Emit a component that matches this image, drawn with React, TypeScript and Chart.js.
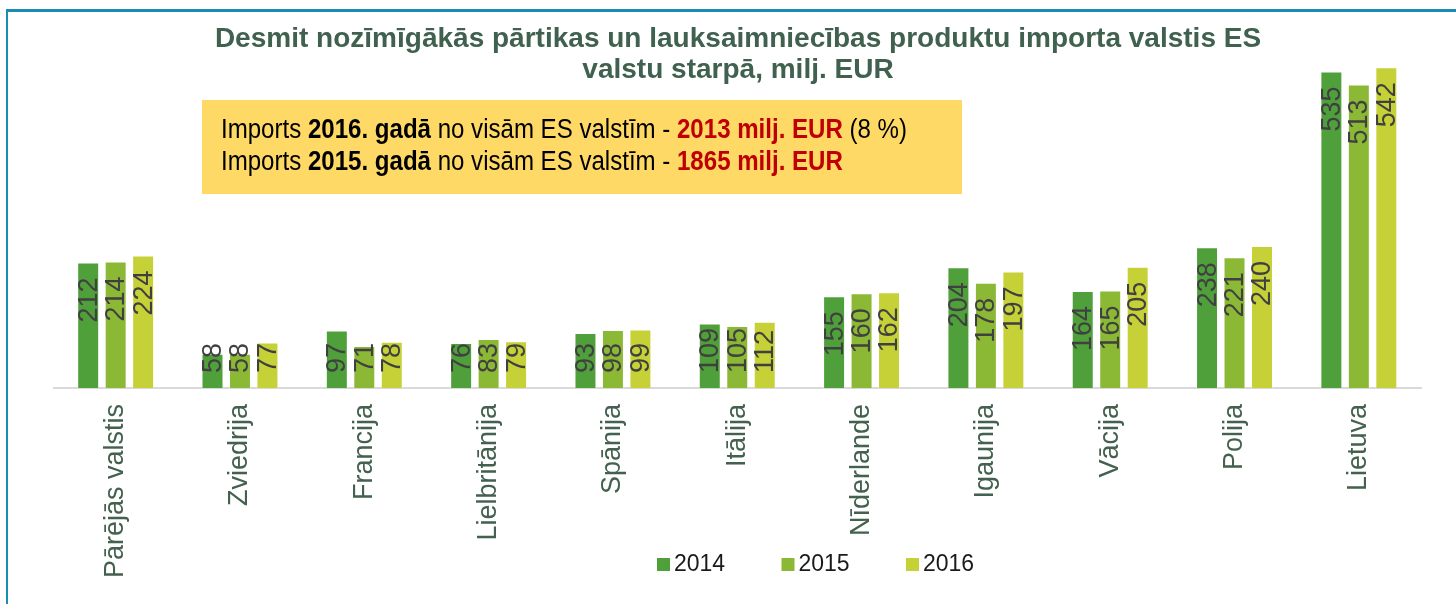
import React, { useEffect, useRef } from "react";
import { Chart, registerables } from "chart.js";

Chart.register(...registerables);

const categories = [
  "Pārējās valstis",
  "Zviedrija",
  "Francija",
  "Lielbritānija",
  "Spānija",
  "Itālija",
  "Nīderlande",
  "Igaunija",
  "Vācija",
  "Polija",
  "Lietuva",
];
const years = ["2014", "2015", "2016"];
const values2014 = [212, 58, 97, 76, 93, 109, 155, 204, 164, 238, 535];
const values2015 = [214, 58, 71, 83, 98, 105, 160, 178, 165, 221, 513];
const values2016 = [224, 77, 78, 79, 99, 112, 162, 197, 205, 240, 542];
const colors = ["#4f9f3b", "#8cb935", "#c5d137"];

const titleLines = [
  "Desmit nozīmīgākās pārtikas un lauksaimniecības produktu importa valstis ES",
  "valstu starpā, milj. EUR",
];
const noteLines: { text: string; bold: boolean; red: boolean }[][] = [
  [
    { text: "Imports ", bold: false, red: false },
    { text: "2016. gadā", bold: true, red: false },
    { text: " no visām ES valstīm - ", bold: false, red: false },
    { text: "2013 milj. EUR", bold: true, red: true },
    { text: " (8 %)", bold: false, red: false },
  ],
  [
    { text: "Imports ", bold: false, red: false },
    { text: "2015. gadā", bold: true, red: false },
    { text: " no visām ES valstīm - ", bold: false, red: false },
    { text: "1865 milj. EUR", bold: true, red: true },
  ],
];

const FONT = '"Liberation Sans", Arial, sans-serif';
const NARROW = '"Liberation Sans Narrow", "Liberation Sans", Arial, sans-serif';

const overlayPlugin = {
  id: "overlay",
  afterDatasetsDraw(chart: any) {
    const ctx: CanvasRenderingContext2D = chart.ctx;
    // data labels
    ctx.save();
    ctx.fillStyle = "#404040";
    ctx.font = `27px ${FONT}`;
    ctx.textAlign = "right";
    ctx.textBaseline = "middle";
    chart.data.datasets.forEach((ds: any, i: number) => {
      const meta = chart.getDatasetMeta(i);
      meta.data.forEach((bar: any, j: number) => {
        const p = bar.getProps(["x", "y", "base"], true);
        const label = String(ds.data[j]);
        const w = ctx.measureText(label).width;
        const top = Math.min(p.y + 15, p.base - 15 - w);
        ctx.save();
        ctx.translate(p.x + 1, top);
        ctx.rotate(-Math.PI / 2);
        ctx.fillText(label, 0, 0);
        ctx.restore();
      });
    });
    ctx.restore();
  },
  afterDraw(chart: any) {
    const ctx: CanvasRenderingContext2D = chart.ctx;
    ctx.save();
    // title
    ctx.fillStyle = "#41614f";
    ctx.textAlign = "center";
    ctx.textBaseline = "alphabetic";
    ctx.font = `bold 25px ${FONT}`;
    const w0 = ctx.measureText(titleLines[0]).width;
    const size = (25 * 1047) / w0;
    ctx.font = `bold ${size}px ${FONT}`;
    ctx.fillText(titleLines[0], 738, 47);
    ctx.fillText(titleLines[1], 738, 78);

    // note box
    ctx.fillStyle = "#ffd966";
    ctx.fillRect(202, 100, 760, 94);
    ctx.textAlign = "left";
    const fsz = 27;
    const measureLine = (line: any[]) =>
      line.reduce((acc, seg) => {
        ctx.font = `${seg.bold ? "bold " : ""}${fsz}px ${NARROW}`;
        return acc + ctx.measureText(seg.text).width;
      }, 0);
    const lw = measureLine(noteLines[0]);
    const sx = 686 / lw;
    const baselines = [137.5, 170];
    noteLines.forEach((line, li) => {
      ctx.save();
      ctx.translate(221, baselines[li]);
      ctx.scale(sx, 1);
      let x = 0;
      line.forEach((seg) => {
        ctx.font = `${seg.bold ? "bold " : ""}${fsz}px ${NARROW}`;
        ctx.fillStyle = seg.red ? "#c00000" : "#000000";
        ctx.fillText(seg.text, x, 0);
        x += ctx.measureText(seg.text).width;
      });
      ctx.restore();
    });

    // legend
    ctx.font = `23px ${FONT}`;
    ctx.textBaseline = "middle";
    chart.data.datasets.forEach((ds: any, i: number) => {
      const bx = 657 + i * 124.5;
      ctx.fillStyle = ds.backgroundColor;
      ctx.fillRect(bx, 558, 13, 13);
      ctx.fillStyle = "#1a1a1a";
      ctx.fillText(ds.label, bx + 17, 565);
    });
    ctx.restore();
  },
};

export default function App() {
  const ref = useRef<HTMLCanvasElement | null>(null);
  useEffect(() => {
    if (!ref.current) return;
    const datasets = [values2014, values2015, values2016].map((vals, i) => ({
      label: years[i],
      data: vals,
      backgroundColor: colors[i],
      borderColor: "rgba(255,255,255,0.45)",
      borderWidth: 1,
      categoryPercentage: 0.663,
      barPercentage: 0.8,
    }));
    const chart = new Chart(ref.current, {
      type: "bar",
      data: { labels: categories, datasets },
      options: {
        responsive: false,
        animation: false,
        layout: { padding: { left: 53.5, right: 35, top: 33, bottom: 0 } },
        plugins: {
          legend: { display: false },
          title: { display: false },
          tooltip: { enabled: false },
        },
        scales: {
          x: {
            grid: { display: false, drawTicks: false },
            border: { display: true, color: "#d9d9d9", width: 2 },
            ticks: {
              autoSkip: false,
              minRotation: 90,
              maxRotation: 90,
              padding: 16,
              color: "#44614f",
              font: { size: 27, family: FONT },
            },
            afterFit: (scale: any) => {
              scale.height = 216;
            },
          },
          y: {
            display: false,
            min: 0,
            max: 600,
          },
        },
      },
      plugins: [overlayPlugin],
    });
    return () => chart.destroy();
  }, []);
  return (
    <div
      style={{
        position: "absolute",
        left: 0,
        top: 0,
        width: 1456,
        height: 604,
        overflow: "hidden",
        background: "#ffffff",
      }}
    >
      <canvas ref={ref} width={1456} height={604} style={{ display: "block" }} />
      <div
        style={{
          position: "absolute",
          left: 6,
          top: 9,
          width: 1470,
          height: 700,
          borderTop: "3px solid #1a8cb8",
          borderLeft: "2px solid #1a8cb8",
          pointerEvents: "none",
        }}
      />
    </div>
  );
}
